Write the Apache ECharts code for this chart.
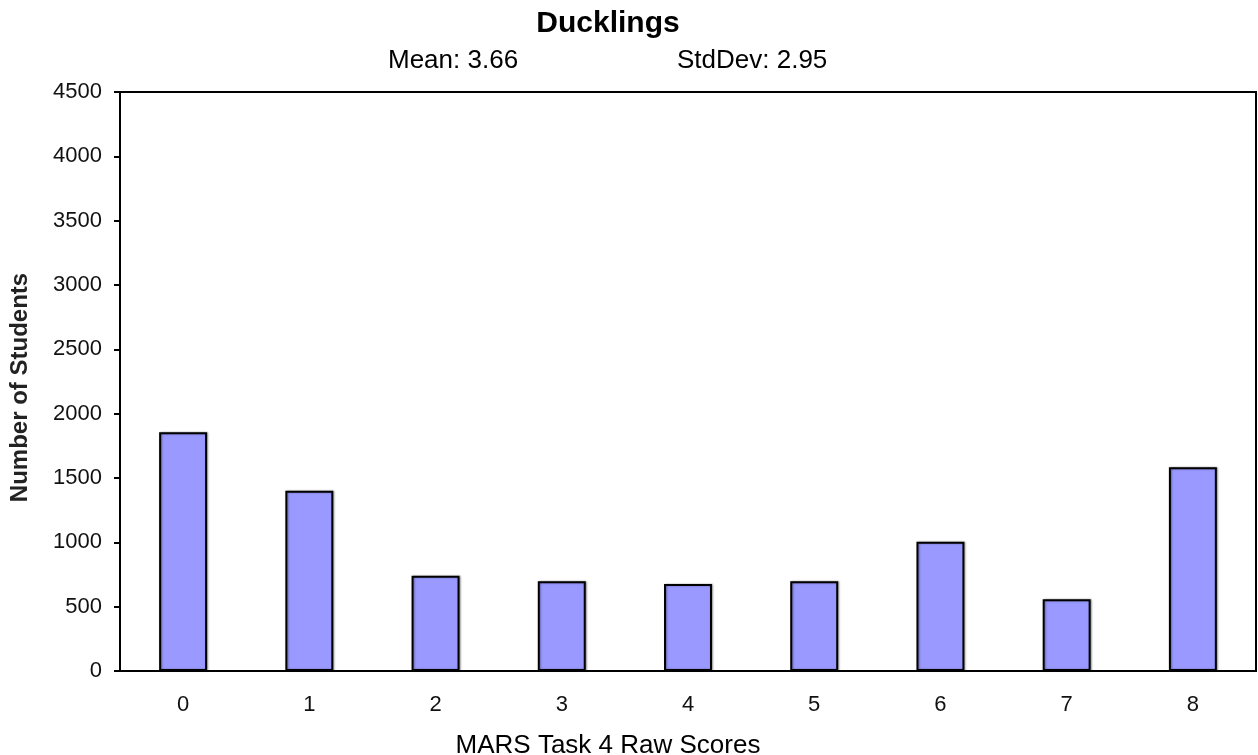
<!DOCTYPE html>
<html>
<head>
<meta charset="utf-8">
<script src="https://cdn.jsdelivr.net/npm/echarts@6/dist/echarts.min.js"></script>
<style>html,body{margin:0;padding:0;background:#fff;}#c{width:1258px;height:755px;}</style>
</head>
<body>
<div id="c"></div>
<script>
const categories = ['0','1','2','3','4','5','6','7','8'];
const students = [1855, 1401, 741, 697, 676, 697, 1005, 557, 1583];
const yTicks = [0, 500, 1000, 1500, 2000, 2500, 3000, 3500, 4000, 4500];
const titleText = 'Ducklings';
const meanText = 'Mean: 3.66';
const sdText = 'StdDev: 2.95';
const xName = 'MARS Task 4 Raw Scores';
const yName = 'Number of Students';

const chart = echarts.init(document.getElementById('c'));
const F = '"Liberation Sans", Arial, sans-serif';
chart.setOption({
  animation: false,
  backgroundColor: '#fff',
  title: [
    { text: titleText, left: 603, top: 4, textAlign: 'center',
      textStyle: { fontFamily: F, fontSize: 30, fontWeight: 'bold', color: '#000', lineHeight: 30 } },
    { text: meanText, left: 383, top: 43,
      textStyle: { fontFamily: F, fontSize: 26, fontWeight: 'normal', color: '#000', lineHeight: 26 } },
    { text: sdText, left: 672, top: 43,
      textStyle: { fontFamily: F, fontSize: 26, fontWeight: 'normal', color: '#000', lineHeight: 26 } },
    { text: xName, left: 603, top: 728, textAlign: 'center',
      textStyle: { fontFamily: F, fontSize: 26, fontWeight: 'normal', color: '#000', lineHeight: 26 } }
  ],
  grid: { left: 120, right: 2, top: 92, bottom: 84, show: true, borderColor: '#000', borderWidth: 2, backgroundColor: 'transparent' },
  xAxis: {
    type: 'category', data: categories,
    axisLine: { lineStyle: { color: '#000', width: 2 } },
    axisTick: { show: false },
    axisLabel: { fontFamily: F, fontSize: 22, color: '#111', margin: 23 }
  },
  yAxis: {
    type: 'value', min: yTicks[0], max: yTicks[yTicks.length - 1], interval: yTicks[1] - yTicks[0],
    name: yName, nameLocation: 'middle', nameGap: 88, nameRotate: 90,
    nameTextStyle: { fontFamily: F, fontSize: 24, fontWeight: 'bold', color: '#222', padding: [0, 12, 0, 0] },
    axisLine: { show: true, lineStyle: { color: '#000', width: 2 } },
    axisTick: { show: true, length: 6, lineStyle: { color: '#000', width: 2 } },
    axisLabel: { fontFamily: F, fontSize: 22, color: '#111', margin: 18, formatter: v => String(v) },
    splitLine: { show: false }
  },
  series: [{
    type: 'bar', data: students, barWidth: '38%',
    itemStyle: { color: '#9999FF', borderColor: '#000', borderWidth: 2,
      shadowColor: 'rgba(0,0,0,0.35)', shadowOffsetX: 1, shadowBlur: 2 }
  }]
});
</script>
</body>
</html>
